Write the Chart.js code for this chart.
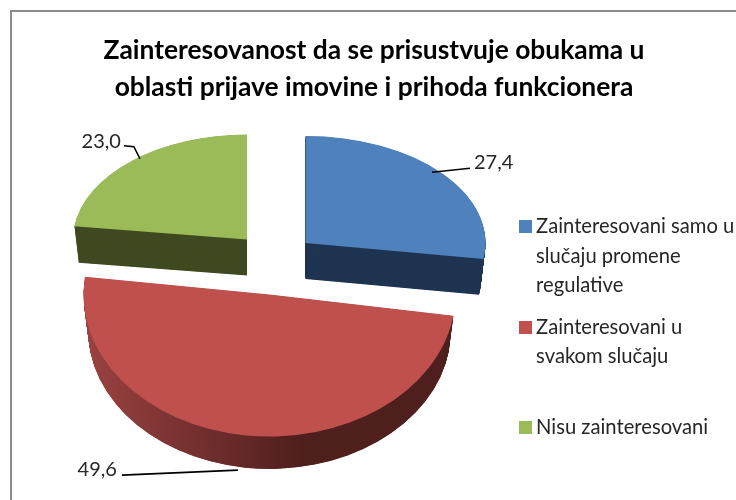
<!DOCTYPE html>
<html><head><meta charset="utf-8">
<style>html,body{margin:0;padding:0;background:#fff}#w{width:736px;height:500px}</style>
<script src="https://cdn.jsdelivr.net/npm/chart.js@4/dist/chart.umd.js"></script>
</head><body><div id="w"><canvas id="c" width="736" height="500"></canvas></div>
<script>
const titleLines = ['Zainteresovanost da se prisustvuje obukama u', 'oblasti prijave imovine i prihoda funkcionera'];
const categories = [
  ['Zainteresovani samo u', 'slučaju promene', 'regulative'],
  ['Zainteresovani u', 'svakom slučaju', ''],
  ['Nisu zainteresovani']
];
const values = [27.4, 49.6, 23.0];
const topColors = ['#4f81bd', '#c0504d', '#9bbb59'];
const wallColors = ['#1f3552', '#4f1f1e', '#404a22'];

// Exploded 3D placement of each slice on the page
const slicePlacement = [
  {x: 305.5, y: 243, rx: 180, ry: 107, depth: 36},
  {x: 269.5, y: 294.5, rx: 186, ry: 142, depth: 36},
  {x: 247, y: 239.5, rx: 174, ry: 105, depth: 36}
];
// Data-label offsets relative to the rim point at each slice's mid-angle
const labelPlacement = [
  {tip: [-10, -1], bend: [[28, -5]], text: [32, -11], align: 'left'},
  {tip: [-6, 35], bend: [[-122, 40]], text: [-127, 34], align: 'right'},
  {tip: [8, -2], bend: [[2, -14], [-8, -15]], text: [-11, -19], align: 'right'}
];
const perspective = 0.025;
const font = 'Lato, Carlito, Calibri, sans-serif';
const fmt = v => v.toFixed(1).replace('.', ',');

function swatch(color) {
  const s = document.createElement('canvas');
  s.width = 13; s.height = 13;
  const c = s.getContext('2d');
  c.fillStyle = color;
  c.fillRect(0, 0, 13, 13);
  return s;
}

function place(ctx, el, p, d) {
  const k = 1 - perspective * d / p.depth;
  ctx.translate(p.x, p.y + d);
  ctx.scale(k * p.rx / el.outerRadius, k * p.ry / el.outerRadius);
  ctx.translate(-el.x, -el.y);
}

const pie3d = {
  id: 'pie3d',
  beforeDraw(chart) {
    const {ctx} = chart;
    ctx.save();
    ctx.strokeStyle = '#8c8c8c';
    ctx.lineWidth = 2;
    ctx.beginPath();
    ctx.moveTo(11, 500); ctx.lineTo(11, 11); ctx.lineTo(736, 11);
    ctx.stroke();
    ctx.restore();
  },
  afterLayout(chart) {
    const l = chart.legend;
    l.left = 524 - l.options.labels.padding; l.right = 736;
    l.top = 216.5 - l.options.labels.padding; l.bottom = 500;
    chart.titleBlock.left += 6; chart.titleBlock.right += 6;
  },
  beforeDatasetsDraw(chart) {
    const {ctx} = chart;
    const arcs = chart.getDatasetMeta(0).data;
    arcs.forEach((el, i) => {
      const p = slicePlacement[i];
      const base = el.options;
      let wall = wallColors[i];
      if (i === 1) {
        // red rim shading: lighter at left, darkest towards the front right
        const s = el.outerRadius / p.rx;
        const lx = X => (X - p.x) * s + el.x;
        const g = ctx.createLinearGradient(lx(85), 0, lx(300), 0);
        g.addColorStop(0, '#9a4240');
        g.addColorStop(1, '#4f1f1e');
        wall = g;
      }
      el.options = Object.assign({}, base, {backgroundColor: wall, borderWidth: 0});
      for (let d = p.depth; d > 0; d -= 0.5) {
        ctx.save(); place(ctx, el, p, d); el.draw(ctx, chart.chartArea); ctx.restore();
      }
      el.options = Object.assign({}, base, {borderWidth: 0});
      ctx.save(); place(ctx, el, p, 0); el.draw(ctx, chart.chartArea); ctx.restore();
      el.options = base;
    });
    return false;
  },
  afterDraw(chart) {
    const {ctx} = chart;
    chart.getDatasetMeta(0).data.forEach((el, i) => {
      const p = slicePlacement[i], q = labelPlacement[i];
      const mid = (el.startAngle + el.endAngle) / 2;
      const ax = p.x + Math.cos(mid) * p.rx;
      const ay = p.y + Math.sin(mid) * p.ry;
      ctx.save();
      ctx.strokeStyle = '#000'; ctx.lineWidth = 1.6;
      ctx.beginPath();
      ctx.moveTo(ax + q.tip[0], ay + q.tip[1]);
      q.bend.forEach(b => ctx.lineTo(ax + b[0], ay + b[1]));
      ctx.stroke();
      ctx.fillStyle = '#262626';
      ctx.font = '20px ' + font;
      ctx.textAlign = q.align;
      ctx.textBaseline = 'middle';
      ctx.fillText(fmt(values[i]), ax + q.text[0], ay + q.text[1]);
      ctx.restore();
    });
  }
};

new Chart(document.getElementById('c'), {
  type: 'pie',
  data: {
    labels: categories,
    datasets: [{data: values, backgroundColor: topColors, borderWidth: 0}]
  },
  plugins: [pie3d],
  options: {
    responsive: false,
    animation: false,
    layout: {padding: 0},
    plugins: {
      tooltip: {enabled: false},
      title: {
        display: true,
        text: titleLines,
        color: '#000',
        font: {family: font, size: 26.4, weight: 'bold', lineHeight: 1.4},
        padding: {top: 32, bottom: 10}
      },
      legend: {
        position: 'right',
        align: 'start',
        labels: {
          color: '#262626',
          font: {family: font, size: 20.2, lineHeight: 1.46},
          usePointStyle: true,
          pointStyleWidth: 2,
          boxHeight: 13,
          padding: 12,
          generateLabels(chart) {
            return categories.map((t, i) => ({
              text: t, fillStyle: topColors[i], strokeStyle: topColors[i],
              lineWidth: 0, pointStyle: swatch(topColors[i]), rotation: 0, index: i, hidden: false,
              fontColor: '#262626'
            }));
          }
        }
      }
    }
  }
});
</script></body></html>
